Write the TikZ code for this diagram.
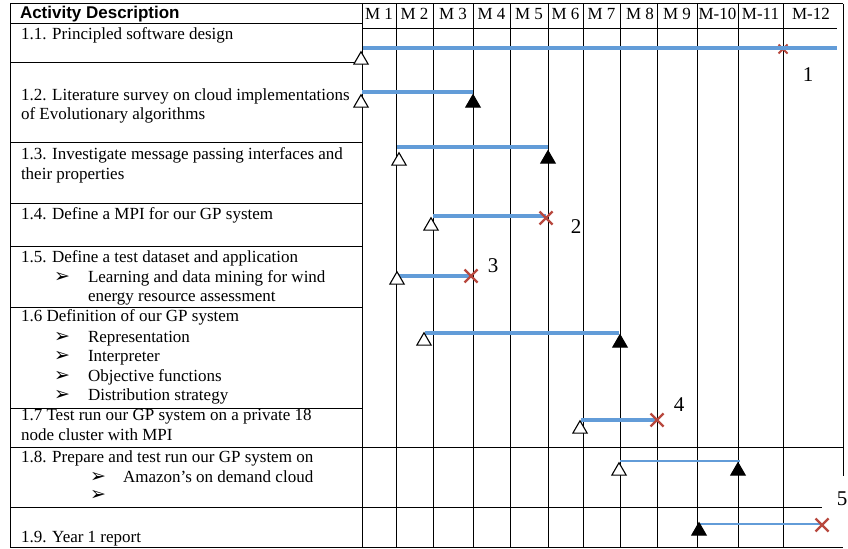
\documentclass[tikz,border=0pt]{standalone}
\usepackage{fontspec}
\setmainfont{Liberation Serif}
\newfontfamily\hdsans{Liberation Sans}
\newfontfamily\symdv{DejaVu Sans}
\usetikzlibrary{shapes.geometric,shapes.misc}
\definecolor{barblue}{RGB}{98,156,216}
\definecolor{xred}{RGB}{184,72,62}
\begin{document}
\begin{tikzpicture}[x=1bp,y=-1bp,
  grid/.style={line width=1bp, black},
  txt/.style={anchor=base west, inner sep=0, outer sep=0, font=\fontsize{17bp}{19.5bp}\selectfont},
  hdtxt/.style={txt, font=\hdsans\bfseries\fontsize{17bp}{19.5bp}\selectfont},
  mon/.style={anchor=base, inner sep=0, outer sep=0, font=\fontsize{17bp}{19.5bp}\selectfont},
  bul/.style={anchor=base west, inner sep=0, outer sep=0, font=\symdv\fontsize{19bp}{19bp}\selectfont},
  bar/.style={line width=3.5bp, barblue},
  thinbar/.style={line width=2.5bp, barblue},
  opentri/.style={regular polygon, regular polygon sides=3, draw=black, fill=white, line width=1.1bp, minimum size=16.5bp, inner sep=0, outer sep=0},
  filltri/.style={opentri, fill=black},
  xmark/.style={cross out, draw=xred, line width=2.4bp, minimum size=13bp, inner sep=0, outer sep=0},
  num/.style={inner sep=0, outer sep=0, font=\fontsize{21bp}{21bp}\selectfont}
]
\useasboundingbox (0,0) rectangle (848,549);
\fill[white] (0,0) rectangle (848,549);

% ---- grid ----
\draw[grid] (10,4) -- (843,4);
\draw[grid] (10,4) -- (10,547);
\draw[grid] (362,4) -- (362,547);
\draw[grid] (843,4) -- (843,476);
\foreach \x in {396,433,473,510,548,583,620,657,697,738,783}
  \draw[grid] (\x,4) -- (\x,547);
\draw[grid] (10,24) -- (362,24);
\draw[grid] (362,29) -- (837,29);
\foreach \y in {63,143,204,247,307,408}
  \draw[grid] (10,\y) -- (362,\y);
\draw[grid] (10,447) -- (843,447);
\draw[grid] (10,507) -- (822,507);
\draw[grid] (10,547) -- (843,547);

% ---- header ----
\node[hdtxt] (hd) at (20,19) {Activity Description};
\node[mon] (m1) at (379,20) {M 1};
\node[mon] (m2) at (414.5,20) {M 2};
\node[mon] (m3) at (453,20) {M 3};
\node[mon] (m4) at (491.5,20) {M 4};
\node[mon] (m5) at (529,20) {M 5};
\node[mon] (m6) at (565.5,20) {M 6};
\node[mon] (m7) at (601.5,20) {M 7};
\node[mon] (m8) at (640,20) {M 8};
\node[mon] (m9) at (677,20) {M 9};
\node[mon] (m10) at (717.5,20) {M-10};
\node[mon] (m11) at (760.5,20) {M-11};
\node[mon] (m12) at (811,20) {M-12};

% ---- activity texts ----
\node[txt] (t11) at (21,40) {1.1. Principled software design};
\node[txt] (t12a) at (21,101) {1.2. Literature survey on cloud implementations};
\node[txt] (t12b) at (21,120) {of Evolutionary algorithms};
\node[txt] (t13a) at (21,160) {1.3. Investigate message passing interfaces and};
\node[txt] (t13b) at (21,180) {their properties};
\node[txt] (t14) at (21,220) {1.4. Define a MPI for our GP system};
\node[txt] (t15a) at (21,263) {1.5. Define a test dataset and application};
\node[bul] (b15) at (54,283) {➢};
\node[txt] (t15b) at (88,283) {Learning and data mining for wind};
\node[txt] (t15c) at (88,302) {energy resource assessment};
\node[txt] (t16) at (21,322) {1.6 Definition of our GP system};
\node[bul] (b16a) at (54,342) {➢};
\node[txt] (t16a) at (88,342) {Representation};
\node[bul] (b16b) at (54,361) {➢};
\node[txt] (t16b) at (88,361) {Interpreter};
\node[bul] (b16c) at (54,381) {➢};
\node[txt] (t16c) at (88,381) {Objective functions};
\node[bul] (b16d) at (54,400) {➢};
\node[txt] (t16d) at (88,400) {Distribution strategy};
\node[txt] (t17a) at (21,420) {1.7 Test run our GP system on a private 18};
\node[txt] (t17b) at (21,440) {node cluster with MPI};
\node[txt] (t18a) at (21,462) {1.8. Prepare and test run our GP system on};
\node[bul] (b18a) at (90,482) {➢};
\node[txt] (t18b) at (123,482) {Amazon’s on demand cloud};
\node[bul] (b18b) at (90,500) {➢};
\node[txt] (t19) at (21,542) {1.9. Year 1 report};

% ---- bar end points ----
\coordinate (s1) at (363,48);  \coordinate (e1) at (837,48);
\coordinate (s2) at (362,92);  \coordinate (e2) at (473,92);
\coordinate (s3) at (397,147); \coordinate (e3) at (548,147);
\coordinate (s4) at (433,216); \coordinate (e4) at (546,216);
\coordinate (s5) at (397,276); \coordinate (e5) at (471,276);
\coordinate (s6) at (425,333); \coordinate (e6) at (619,333);
\coordinate (s7) at (581,420); \coordinate (e7) at (657,420);
\coordinate (s8) at (620,461); \coordinate (e8) at (740,461);
\coordinate (s9) at (699,524); \coordinate (e9) at (822,524);

% ---- markers behind bars ----
\node[xmark, minimum size=9bp, line width=2bp] (x1) at (783,49) {};

% ---- bars ----
\draw[bar, line width=4bp] (s1) -- (e1);
\draw[bar] (s2) -- (e2);
\draw[bar] (s3) -- (e3);
\draw[bar] (s4) -- (e4);
\draw[bar] (s5) -- (e5);
\draw[bar] (s6) -- (e6);
\draw[bar] (s7) -- (e7);
\draw[thinbar] (s8) -- (e8);
\draw[thinbar] (s9) -- (e9);

% ---- start / end markers ----
\node[opentri] (st1) at (361,60) {};
\node[opentri] (st2) at (361,103) {};
\node[opentri] (st3) at (399,161) {};
\node[opentri] (st4) at (431,226) {};
\node[opentri] (st5) at (397,280) {};
\node[opentri] (st6) at (424,341) {};
\node[opentri] (st7) at (580,429) {};
\node[opentri] (st8) at (619,471) {};
\node[filltri] (st9) at (699,531) {};

\node[filltri] (en2) at (473,103) {};
\node[filltri] (en3) at (548,159) {};
\node[filltri] (en6) at (620,343) {};
\node[filltri] (en8) at (738,471) {};

\node[xmark] (x4) at (546,218) {};
\node[xmark] (x5) at (471,276) {};
\node[xmark] (x7) at (657,420) {};
\node[xmark] (x9) at (822,525) {};

% ---- milestone numbers ----
\node[num] (n1) at (808,75) {1};
\node[num] (n2) at (576,227) {2};
\node[num] (n3) at (493,266) {3};
\node[num] (n4) at (679,405) {4};
\node[num] (n5) at (842,499) {5};
\end{tikzpicture}
\end{document}
